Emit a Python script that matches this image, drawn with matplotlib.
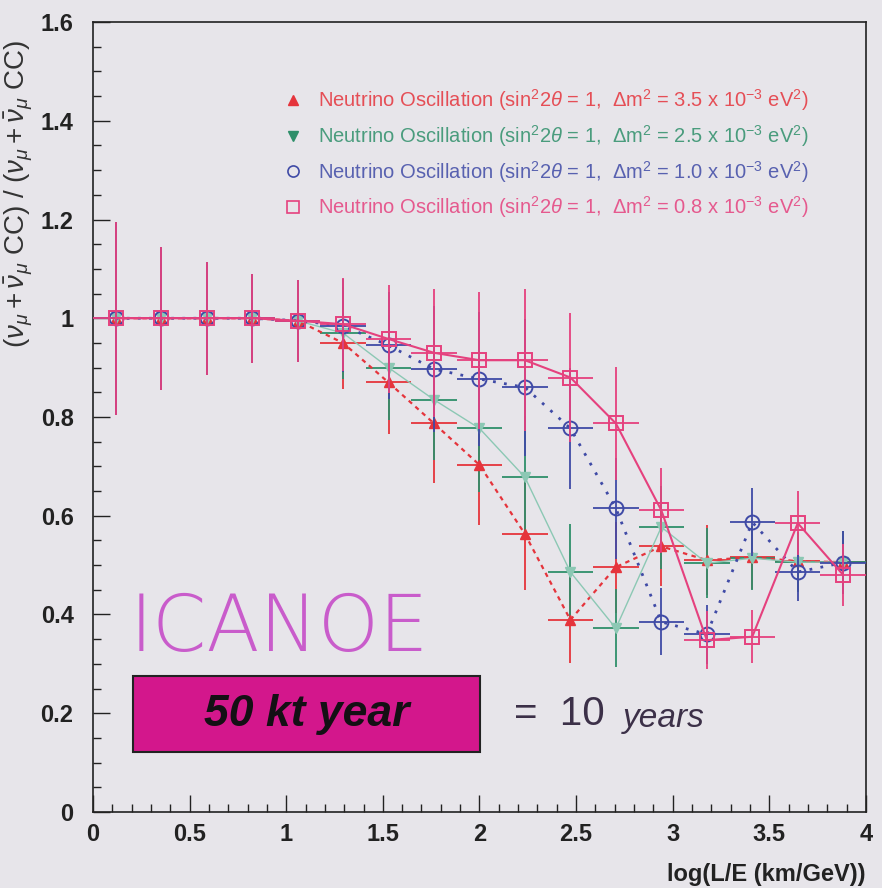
import numpy as np
import matplotlib.pyplot as plt
from matplotlib.lines import Line2D
from matplotlib.patches import Rectangle
from matplotlib.ticker import MultipleLocator

# 17 bins of log(L/E) between 0 and 4
bin_lo = np.linspace(0, 4, 18)[:-1]
bin_w = 4 / 17
x = bin_lo + bin_w / 2

# ratio values
sq = [1, 1, 1, 1, 0.995, 0.988, 0.958, 0.93, 0.915, 0.915, 0.88, 0.787, 0.611, 0.348, 0.355, 0.585, 0.48]
sq_err = [0.195, 0.145, 0.114, 0.09, 0.083, 0.094, 0.11, 0.13, 0.139, 0.144, 0.131, 0.115, 0.086, 0.059, 0.054, 0.065, 0.062]

circ = [1, 1, 1, 1, 0.995, 0.985, 0.945, 0.897, 0.877, 0.86, 0.777, 0.615, 0.385, 0.36, 0.587, 0.486, 0.505]
circ_err = [0.195, 0.145, 0.114, 0.09, 0.083, 0.094, 0.109, 0.128, 0.136, 0.139, 0.123, 0.102, 0.068, 0.06, 0.069, 0.059, 0.064]

tdown = [1, 1, 1, 1, 0.995, 0.97, 0.90, 0.835, 0.777, 0.678, 0.486, 0.372, 0.577, 0.504, 0.514, 0.506, 0.506]
tdown_err = [0.195, 0.145, 0.114, 0.09, 0.083, 0.094, 0.106, 0.123, 0.128, 0.124, 0.098, 0.079, 0.084, 0.071, 0.065, 0.06, 0.064]

tup = [1, 1, 1, 1, 0.995, 0.95, 0.87, 0.787, 0.703, 0.563, 0.389, 0.496, 0.538, 0.51, 0.516, 0.508, 0.506]
tup_err = [0.195, 0.145, 0.114, 0.09, 0.083, 0.093, 0.104, 0.12, 0.122, 0.113, 0.087, 0.092, 0.081, 0.071, 0.064, 0.06, 0.064]

labels = [
    r"Neutrino Oscillation (sin$^2$2$\theta$ = 1,  $\Delta$m$^2$ = 3.5 x 10$^{-3}$ eV$^2$)",
    r"Neutrino Oscillation (sin$^2$2$\theta$ = 1,  $\Delta$m$^2$ = 2.5 x 10$^{-3}$ eV$^2$)",
    r"Neutrino Oscillation (sin$^2$2$\theta$ = 1,  $\Delta$m$^2$ = 1.0 x 10$^{-3}$ eV$^2$)",
    r"Neutrino Oscillation (sin$^2$2$\theta$ = 1,  $\Delta$m$^2$ = 0.8 x 10$^{-3}$ eV$^2$)",
]

RED = '#e5343c'
GREEN = '#2e8f6a'
BLUE = '#3f4aa6'
PINK = '#e5417e'
BG = '#e7e5ea'

plt.rcParams['font.family'] = ['Liberation Sans', 'DejaVu Sans']
plt.rcParams['mathtext.fontset'] = 'custom'
plt.rcParams['mathtext.rm'] = 'Liberation Sans'
plt.rcParams['mathtext.it'] = 'Liberation Sans:italic'

fig = plt.figure(figsize=(8.82, 8.88), dpi=100, facecolor=BG)
ax = fig.add_axes([0.1054, 0.0856, 0.8764, 0.8896], facecolor=BG)

xe = bin_w / 2
ax.errorbar(x, tup, yerr=tup_err, xerr=xe, fmt='^', ls=(0, (2, 2)), lw=1.6,
            color=RED, ms=7, elinewidth=1.3, capsize=0, zorder=3)
ax.errorbar(x, tdown, yerr=tdown_err, xerr=xe, fmt='v', ls='-', lw=1.0,
            color=GREEN, ms=7, elinewidth=1.3, capsize=0, zorder=3)
ax.lines[-1].set_color('#8cc8b4')
ax.errorbar(x, circ, yerr=circ_err, xerr=xe, fmt='o', ls=(0, (1, 3)), lw=2.0,
            color=BLUE, mfc='none', mew=1.4, ms=10, elinewidth=1.3, capsize=0, zorder=4)
ax.errorbar(x, sq, yerr=sq_err, xerr=xe, fmt='s', ls='-', lw=1.5,
            color=PINK, mfc='none', mew=1.4, ms=10, elinewidth=1.3, capsize=0, zorder=5)

ax.set_xlim(0, 4)
ax.set_ylim(0, 1.6)
ax.xaxis.set_minor_locator(MultipleLocator(0.1))
ax.yaxis.set_minor_locator(MultipleLocator(0.05))
ax.set_xticks(np.arange(0, 4.01, 0.5))
ax.set_xticklabels(['0', '0.5', '1', '1.5', '2', '2.5', '3', '3.5', '4'])
ax.set_yticks(np.arange(0, 1.61, 0.2))
ax.set_yticklabels(['0', '0.2', '0.4', '0.6', '0.8', '1', '1.2', '1.4', '1.6'])
ax.tick_params(which='both', direction='in', top=False, right=False, width=1.0, color='#222222')
ax.tick_params(which='major', length=12)
ax.tick_params(which='minor', length=6)
ax.tick_params(axis='x', labelsize=17, pad=8)
ax.tick_params(axis='y', labelsize=17, pad=14)
for t in ax.get_xticklabels() + ax.get_yticklabels():
    t.set_fontweight('bold')
    t.set_color('#222222')
for s in ax.spines.values():
    s.set_linewidth(1.2)
    s.set_color('#222222')

ax.set_xlabel('log(L/E (km/GeV))', fontsize=17, fontweight='bold', color='#222222')
ax.xaxis.set_label_coords(1.0, -0.065)
ax.xaxis.label.set_ha('right')

# y label, squeezed into the narrow left margin
fig.text(0.021, 0.955, r"$(\nu_\mu + \bar{\nu}_\mu\ \mathrm{CC})\ /\ (\nu_\mu + \bar{\nu}_\mu\ \mathrm{CC})$",
         rotation=90, fontsize=20, ha='center', va='top', color='#333333')

# legend
handles = [
    Line2D([], [], ls='none', marker='^', color=RED, ms=7),
    Line2D([], [], ls='none', marker='v', color=GREEN, ms=7),
    Line2D([], [], ls='none', marker='o', color=BLUE, mfc='none', mew=1.2, ms=8),
    Line2D([], [], ls='none', marker='s', color=PINK, mfc='none', mew=1.2, ms=8),
]
leg = ax.legend(handles, labels, loc='upper left', bbox_to_anchor=(0.222, 0.94),
                frameon=False, fontsize=14.5, handlelength=1.0, handletextpad=0.75,
                labelspacing=0.48, labelcolor=[RED, GREEN, BLUE, PINK])
for t in leg.get_texts():
    t.set_alpha(0.85)

# annotations
ax.text(0.19, 0.37, 'ICANOE', fontsize=56, color='#c95ccb', fontweight='light',
        ha='left', va='center', family='DejaVu Sans')
ax.add_patch(Rectangle((0.207, 0.121), 1.796, 0.154, facecolor='#d3178c',
                       edgecolor='#222222', lw=1.5, zorder=6))
ax.text(1.105, 0.198, '50 kt year', fontsize=32, fontweight='bold', fontstyle='italic',
        color='#141014', ha='center', va='center', zorder=7)
ax.text(2.18, 0.198, '=  10', fontsize=29, color='#3c3048', ha='left', va='center')
ax.text(2.74, 0.19, 'years', fontsize=24, fontstyle='italic', color='#3c3048', ha='left', va='center')

fig.savefig('out.png', dpi=100, facecolor=BG)
